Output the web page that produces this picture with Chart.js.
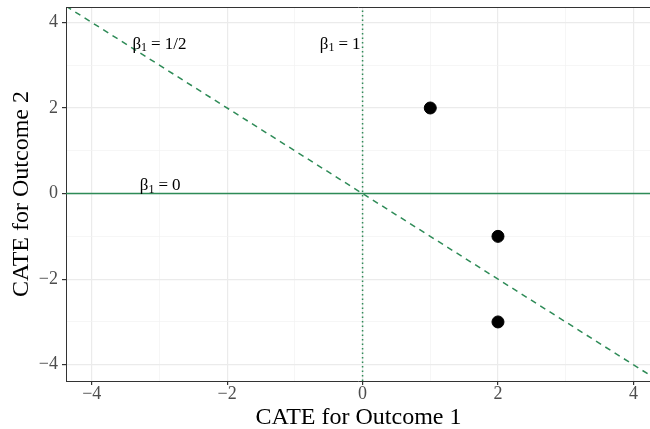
<!DOCTYPE html>
<html>
<head>
<meta charset="utf-8">
<script src="https://cdn.jsdelivr.net/npm/chart.js@4.4.1/dist/chart.umd.min.js"></script>
<style>
  html, body { margin: 0; padding: 0; background: #fff; overflow: hidden; }
  #wrap { width: 650px; height: 429px; overflow: hidden; }
  #chart { display: block; }
</style>
</head>
<body>
<div id="wrap"><canvas id="chart" width="658" height="429"></canvas></div>
<script>
// CATE points (outcome 1, outcome 2)
const cateX = [1, 2, 2];
const cateY = [2, -1, -3];

// axis range and ticks
const xMin = -4.38, xMax = 4.26;
const yMin = -4.38, yMax = 4.36;
const tickVals = [-4, -3, -2, -1, 0, 1, 2, 3, 4];

// reference lines: endpoints in data units
const lineZeroX = [-4.38, 4.26];   // beta1 = 0  (y = 0)
const lineZeroY = [0, 0];
const lineOneX = [0, 0];           // beta1 = 1  (x = 0)
const lineOneY = [-4.38, 4.36];
const lineHalfX = [-4.38, 4.26];   // beta1 = 1/2 (y = -x)
const lineHalfY = [4.38, -4.26];

// labels on the lines: [value of beta1, x, y]
const lineLabels = [
  ['1/2', -3.0, 3.49],
  ['1', -0.33, 3.49],
  ['0', -2.99, 0.19]
];

const green = '#2E8B57';
const serif = "'Liberation Serif', 'DejaVu Serif', serif";

function pts(xs, ys) {
  return xs.map((x, i) => ({x: x, y: ys[i]}));
}

// draws "β₁ = ..." labels centred at data positions
const betaLabels = {
  id: 'betaLabels',
  afterDatasetsDraw(chart) {
    const ctx = chart.ctx;
    const xs = chart.scales.x, ys = chart.scales.y;
    const big = '17px ' + serif, small = '12px ' + serif;
    const gap = 4;
    ctx.save();
    ctx.fillStyle = '#000';
    ctx.textBaseline = 'middle';
    ctx.textAlign = 'left';
    lineLabels.forEach(function (l) {
      ctx.font = big;
      const wB = ctx.measureText('\u03B2').width;
      const wE = ctx.measureText('=').width;
      const wV = ctx.measureText(l[0]).width;
      ctx.font = small;
      const wS = ctx.measureText('1').width;
      const total = wB + wS + gap + wE + gap + wV;
      let px = xs.getPixelForValue(l[1]) - total / 2;
      const py = ys.getPixelForValue(l[2]);
      ctx.font = big;
      ctx.fillText('\u03B2', px, py);
      px += wB;
      ctx.font = small;
      ctx.fillText('1', px, py + 4);
      px += wS + gap;
      ctx.font = big;
      ctx.fillText('=', px, py);
      px += wE + gap;
      ctx.fillText(l[0], px, py);
    });
    ctx.restore();
  }
};

// top border of the panel
const topBorder = {
  id: 'topBorder',
  afterDraw(chart) {
    const a = chart.chartArea, ctx = chart.ctx;
    ctx.save();
    ctx.strokeStyle = '#333';
    ctx.lineWidth = 1;
    ctx.beginPath();
    ctx.moveTo(a.left, a.top + 0.5);
    ctx.lineTo(a.right, a.top + 0.5);
    ctx.stroke();
    ctx.restore();
  }
};

const minus = v => String(v).replace('-', '\u2212');

function gridColor(c) {
  return Math.abs(c.tick.value) % 2 === 1 ? '#F2F2F2' : '#EBEBEB';
}
function gridWidth(c) {
  return Math.abs(c.tick.value) % 2 === 1 ? 0.7 : 1.2;
}
function tickColor(c) {
  return Math.abs(c.tick.value) % 2 === 1 ? 'rgba(0,0,0,0)' : '#333';
}

const ctx = document.getElementById('chart').getContext('2d');
const myChart = new Chart(ctx, {
  type: 'scatter',
  data: {
    datasets: [
      {
        data: pts(lineZeroX, lineZeroY),
        showLine: true,
        borderColor: green,
        borderWidth: 1.5,
        pointRadius: 0
      },
      {
        data: pts(lineOneX, lineOneY),
        showLine: true,
        borderColor: green,
        borderWidth: 1.5,
        borderDash: [1.5, 3],
        pointRadius: 0
      },
      {
        data: pts(lineHalfX, lineHalfY),
        showLine: true,
        borderColor: green,
        borderWidth: 1.5,
        borderDash: [6, 5],
        pointRadius: 0
      },
      {
        data: pts(cateX, cateY),
        showLine: false,
        backgroundColor: '#000',
        borderColor: '#000',
        pointRadius: 6,
        pointHoverRadius: 6
      }
    ]
  },
  options: {
    responsive: false,
    animation: false,
    events: [],
    layout: { padding: { top: 5.5, right: 0, left: 0, bottom: 0 } },
    scales: {
      x: {
        type: 'linear',
        min: xMin,
        max: xMax,
        afterBuildTicks: s => { s.ticks = tickVals.map(v => ({value: v})); },
        afterFit: s => { s.height = 48; s.paddingLeft = 0; s.paddingRight = 0; },
        border: { display: true, color: '#333', width: 1 },
        grid: { color: gridColor, lineWidth: gridWidth, tickColor: tickColor, tickLength: 4, drawTicks: true },
        ticks: {
          padding: 0,
          color: '#4D4D4D',
          font: { family: serif, size: 18, lineHeight: 1 },
          maxRotation: 0,
          autoSkip: false,
          callback: v => (Math.abs(v) % 2 === 1 ? '' : minus(v))
        },
        title: {
          display: true,
          text: 'CATE for Outcome 1',
          color: '#000',
          font: { family: serif, size: 24, lineHeight: 1 },
          padding: { top: 0, bottom: -1 }
        }
      },
      y: {
        type: 'linear',
        min: yMin,
        max: yMax,
        afterBuildTicks: s => { s.ticks = tickVals.map(v => ({value: v})); },
        afterFit: s => { s.width = 66; s.paddingTop = 0; s.paddingBottom = 0; },
        border: { display: true, color: '#333', width: 1 },
        grid: { color: gridColor, lineWidth: gridWidth, tickColor: tickColor, tickLength: 4, drawTicks: true },
        ticks: {
          padding: 4,
          color: '#4D4D4D',
          font: { family: serif, size: 18, lineHeight: 1 },
          autoSkip: false,
          callback: v => (Math.abs(v) % 2 === 1 ? '' : minus(v))
        },
        title: {
          display: true,
          text: 'CATE for Outcome 2',
          color: '#000',
          font: { family: serif, size: 24, lineHeight: 1 },
          padding: { top: 10, bottom: 0 }
        }
      }
    },
    plugins: {
      legend: { display: false },
      tooltip: { enabled: false },
      title: { display: false }
    }
  },
  plugins: [betaLabels, topBorder]
});
</script>
</body>
</html>
